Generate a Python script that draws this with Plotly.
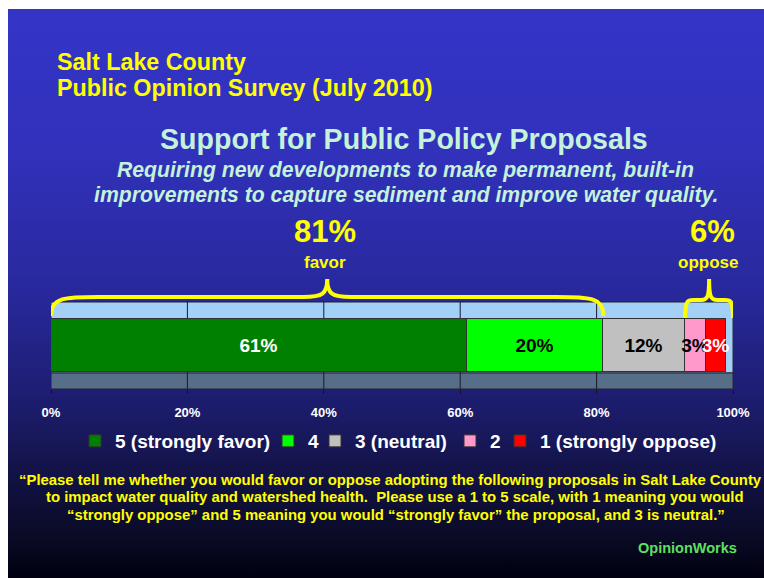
import base64
import plotly.graph_objects as go

W, H = 764, 578

categories = ["5 (strongly favor)", "4", "3 (neutral)", "2", "1 (strongly oppose)"]
values = [61, 20, 12, 3, 3]
bar_colors = ["#008000", "#00ff00", "#c0c0c0", "#ff99cc", "#ff0000"]
label_colors = ["white", "black", "black", "black", "white"]
tick_vals = [0, 20, 40, 60, 80, 100]
tick_text = ["0%", "20%", "40%", "60%", "80%", "100%"]
# x pixel where each legend entry's text starts
legend_text_x = [115, 308, 355, 490, 540]


def px(x):
    return x / W


def py(y):
    return 1 - y / H


favor = values[0] + values[1]
oppose = values[3] + values[4]
neutral_end = favor + values[2]

F = "Liberation Sans"
legend_names = ["legend", "legend2", "legend3", "legend4", "legend5"]

fig = go.Figure()
for cat, v, c, lc, lg in zip(categories, values, bar_colors, label_colors, legend_names):
    fig.add_trace(go.Bar(
        x=[v], y=[0], orientation="h", name=cat, width=0.62, legend=lg,
        marker=dict(color=c, line=dict(color="#333333", width=1)),
        text=[f"{v}%"], textposition="inside", insidetextanchor="middle", textangle=0,
        textfont=dict(color=lc, size=19, family=F, weight="bold"),
        hoverinfo="skip",
    ))

# background gradient
svg = f'''<svg xmlns="http://www.w3.org/2000/svg" width="{W}" height="{H}" preserveAspectRatio="none" viewBox="0 0 {W} {H}">
<defs><linearGradient id="g" x1="0" y1="0" x2="0" y2="1">
<stop offset="0" stop-color="#3434c8"/>
<stop offset="0.25" stop-color="#3131bb"/>
<stop offset="0.5" stop-color="#28289c"/>
<stop offset="0.7" stop-color="#1c1c6c"/>
<stop offset="0.85" stop-color="#10103c"/>
<stop offset="0.93" stop-color="#0a0a26"/>
<stop offset="1" stop-color="#000010"/>
</linearGradient></defs>
<rect x="0" y="0" width="{W}" height="{H}" fill="url(#g)"/></svg>'''
src = "data:image/svg+xml;base64," + base64.b64encode(svg.encode()).decode()

shapes = []
shapes.append(dict(type="rect", xref="x", yref="paper", x0=0, x1=100, y0=py(373), y1=py(302),
                   fillcolor="#a3d0f7", line=dict(color="#222233", width=1), layer="below"))
shapes.append(dict(type="rect", xref="x", yref="paper", x0=0, x1=100, y0=py(389), y1=py(373),
                   fillcolor="#566e88", line=dict(color="#222233", width=1), layer="below"))
for t in tick_vals[1:-1]:
    shapes.append(dict(type="line", xref="x", yref="paper", x0=t, x1=t, y0=py(389), y1=py(302),
                       line=dict(color="#1a1a2a", width=1), layer="below"))


def bracket(x0, x1, ybase, ytop, ypeak, curl, spike):
    m = (x0 + x1) / 2
    return (f"M {x0},{py(ybase)} C {x0},{py(ytop)} {x0 + curl*0.3},{py(ytop)} {x0 + curl},{py(ytop)} "
            f"L {m - spike},{py(ytop)} C {m - spike*0.2},{py(ytop)} {m},{py(ytop - 3)} {m},{py(ypeak)} "
            f"C {m},{py(ytop - 3)} {m + spike*0.2},{py(ytop)} {m + spike},{py(ytop)} "
            f"L {x1 - curl},{py(ytop)} C {x1 - curl*0.3},{py(ytop)} {x1},{py(ytop)} {x1},{py(ybase)}")


shapes.append(dict(type="path", xref="x", yref="paper",
                   path=bracket(0, favor, 316, 297, 279, 7, 3.5),
                   line=dict(color="#ffff00", width=4)))
shapes.append(dict(type="path", xref="x", yref="paper",
                   path=bracket(neutral_end, 100, 318, 300, 279, 1.2, 1.2),
                   line=dict(color="#ffff00", width=4)))


def ann(text, x, y, size, color, xanchor="center", style="normal"):
    return dict(text=text, x=px(x), y=py(y), xref="paper", yref="paper", showarrow=False,
                xanchor=xanchor, yanchor="middle",
                font=dict(family=F, size=size, color=color, weight="bold", style=style))


TITLE = "#c4f2da"
YEL = "#ffff00"
annotations = [
    ann("Salt Lake County", 55, 62, 23.3, YEL, "left"),
    ann("Public Opinion Survey (July 2010)", 55, 88, 23.3, YEL, "left"),
    ann("Support for Public Policy Proposals", 404, 139, 28.6, TITLE),
    ann("Requiring new developments to make permanent, built-in", 405, 170, 21.2, TITLE, style="italic"),
    ann("improvements to capture sediment and improve water quality.", 406, 195, 21.2, TITLE, style="italic"),
    ann(f"{favor}%", 325, 232, 31, YEL),
    ann("favor", 325, 262, 17, YEL),
    ann(f"{oppose}%", 712, 232, 31, YEL),
    ann("oppose", 708, 262, 17, YEL),
    ann("\u201cPlease tell me whether you would favor or oppose adopting the following proposals in Salt Lake County",
        390, 480, 14.9, YEL),
    ann("to impact water quality and watershed health.  Please use a 1 to 5 scale, with 1 meaning you would",
        395, 497, 14.9, YEL),
    ann("\u201cstrongly oppose\u201d and 5 meaning you would \u201cstrongly favor\u201d the proposal, and 3 is neutral.\u201d",
        396, 515, 14.9, YEL),
    ann("OpinionWorks", 687, 548, 14.5, "#5ee05e"),
]

legend_layouts = {}
for lg, tx in zip(legend_names, legend_text_x):
    legend_layouts[lg] = dict(
        orientation="h", x=px(tx - 40), xanchor="left", y=py(441), yanchor="middle",
        font=dict(family=F, size=19, color="white", weight="bold"),
        bgcolor="rgba(0,0,0,0)", itemwidth=30, borderwidth=0)

fig.update_layout(
    width=W, height=H, margin=dict(l=0, r=0, t=0, b=0, pad=0, autoexpand=False),
    paper_bgcolor="white", plot_bgcolor="rgba(0,0,0,0)",
    barmode="stack", bargap=0,
    showlegend=True,
    uniformtext=dict(minsize=19, mode="show"),
    xaxis=dict(domain=[px(51), px(733)], range=[0, 100], tickvals=tick_vals, ticktext=tick_text,
               showgrid=False, zeroline=False, ticks="outside", ticklen=4, tickcolor="#111122",
               ticklabelstandoff=7, automargin=False,
               tickfont=dict(family=F, size=13, color="white", weight="bold"), fixedrange=True),
    yaxis=dict(domain=[py(389), py(302)], range=[-0.5, 0.5], showgrid=False, zeroline=False,
               showticklabels=False, fixedrange=True, automargin=False),
    images=[dict(source=src, xref="paper", yref="paper", x=px(8), y=py(9), sizex=1 - px(8),
                 sizey=py(9), xanchor="left", yanchor="top", sizing="stretch", layer="below")],
    shapes=shapes,
    annotations=annotations,
    **legend_layouts,
)

fig.write_html("out.html", config={"displayModeBar": False},
               post_script="document.body.style.margin='0';document.body.style.overflow='hidden';")
